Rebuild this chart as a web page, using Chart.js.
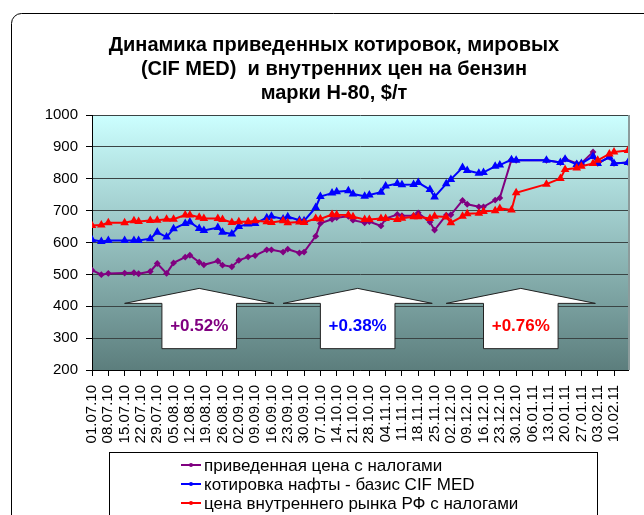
<!DOCTYPE html>
<html>
<head>
<meta charset="utf-8">
<script src="https://cdn.jsdelivr.net/npm/chart.js@4.4.0/dist/chart.umd.min.js"></script>
<style>
  html, body { margin: 0; padding: 0; background: #fff; }
  #wrap { width: 644px; height: 515px; }
</style>
</head>
<body>
<div id="wrap"><canvas id="myChart" width="644" height="515"></canvas></div>
<script>
// Даты наблюдений (дд.мм.гг)
var dates = ['01.07.10','05.07.10','08.07.10','15.07.10','19.07.10','21.07.10','26.07.10','29.07.10',
    '02.08.10','05.08.10','10.08.10','12.08.10','16.08.10','18.08.10','24.08.10','26.08.10','30.08.10',
    '02.09.10','06.09.10','09.09.10','14.09.10','16.09.10','21.09.10','23.09.10','28.09.10','30.09.10',
    '05.10.10','07.10.10','12.10.10','14.10.10','19.10.10','21.10.10','26.10.10','28.10.10',
    '02.11.10','04.11.10','09.11.10','11.11.10','16.11.10','18.11.10','23.11.10','25.11.10','30.11.10',
    '02.12.10','07.12.10','09.12.10','14.12.10','16.12.10','21.12.10','23.12.10','28.12.10','30.12.10',
    '12.01.11','18.01.11','20.01.11','25.01.11','27.01.11',
    '01.02.11','03.02.11','08.02.11','10.02.11','16.02.11'];

// приведенная цена с налогами
var reducedPrice = [513,499,503,504,505,502,509,534,503,536,
    554,560,538,530,542,529,524,544,555,559,
    577,577,570,579,567,570,620,660,673,678,
    682,670,662,666,652,675,688,684,684,693,
    664,639,686,687,732,720,712,712,733,740,
    860,858,858,851,862,848,849,884,848,868,
    848,851];

// котировка нафты - базис CIF MED
var naphthaCif = [609,603,606,606,606,606,612,632,617,643,
    660,664,644,638,647,632,627,650,658,660,
    678,682,674,681,670,668,710,744,755,759,
    762,752,745,749,758,777,785,781,782,788,
    766,743,784,798,835,826,817,820,839,843,
    860,858,858,851,861,845,848,870,848,868,
    848,851];

// цена внутреннего рынка РФ с налогами
var domesticPrice = [653,655,662,662,668,666,669,670,673,673,
    686,686,679,675,675,672,663,665,665,668,
    665,663,668,662,664,663,675,674,688,687,
    686,681,672,672,675,675,672,676,681,681,
    675,682,680,662,682,690,692,697,700,707,
    702,756,783,801,829,834,839,848,858,878,
    884,889];

var seriesNames = ['приведенная цена с налогами', 'котировка нафты - базис CIF MED', 'цена внутреннего рынка РФ с налогами'];

var tickLabels = ['01.07.10','08.07.10','15.07.10','22.07.10','29.07.10','05.08.10','12.08.10','19.08.10',
    '26.08.10','02.09.10','09.09.10','16.09.10','23.09.10','30.09.10','07.10.10','14.10.10','21.10.10',
    '28.10.10','04.11.10','11.11.10','18.11.10','25.11.10','02.12.10','09.12.10','16.12.10','23.12.10',
    '30.12.10','06.01.11','13.01.11','20.01.11','27.01.11','03.02.11','10.02.11'];
var axisStart = '01.07.10';
var axisEnd = '16.02.11';

var yMin = 200, yMax = 1000, yStep = 100;

// прирост (надписи на стрелках)
var growthLabels = ['+0.52%', '+0.38%', '+0.76%'];

var titleLines = ['Динамика приведенных котировок, мировых', '(CIF MED)  и внутренних цен на бензин', 'марки Н-80, $/т'];

// день от начала оси
function dayOf(s) {
    var p = s.split('.');
    var t = Date.UTC(2000 + parseInt(p[2], 10), parseInt(p[1], 10) - 1, parseInt(p[0], 10));
    var p0 = axisStart.split('.');
    var t0 = Date.UTC(2000 + parseInt(p0[2], 10), parseInt(p0[1], 10) - 1, parseInt(p0[0], 10));
    return Math.round((t - t0) / 86400000);
}

function toPoints(values) {
    return values.map(function(v, i) { return {x: dayOf(dates[i]), y: v}; });
}

var FONT = "'Liberation Sans', Arial, sans-serif";

// фон: рамка и градиент области построения
var backgroundPlugin = {
    id: 'background',
    beforeDraw: function(chart) {
        var ctx = chart.ctx, a = chart.chartArea;
        ctx.save();
        ctx.fillStyle = '#fff';
        ctx.fillRect(0, 0, chart.width, chart.height);
        ctx.strokeStyle = '#000';
        ctx.lineWidth = 1;
        ctx.beginPath();
        ctx.roundRect(11.5, 13.5, 700, 600, 10);
        ctx.stroke();
        var g = ctx.createLinearGradient(0, a.top, 0, a.bottom);
        g.addColorStop(0, '#ccffff');
        g.addColorStop(1, '#5c7e7d');
        ctx.fillStyle = g;
        ctx.fillRect(a.left, a.top, a.right - a.left, a.bottom - a.top);
        ctx.strokeStyle = '#8c9c9c';
        ctx.lineWidth = 2;
        ctx.beginPath();
        ctx.moveTo(a.right + 1, a.top);
        ctx.lineTo(a.right + 1, a.bottom);
        ctx.stroke();
        ctx.restore();
    }
};

// стрелки с приростом
var arrowsPlugin = {
    id: 'arrows',
    afterDatasetsDraw: function(chart, args, opts) {
        var ctx = chart.ctx, xs = chart.scales.x, ys = chart.scales.y;
        ctx.save();
        growthLabels.forEach(function(txt, i) {
            var cx = xs.getPixelForValue(opts.centers[i]);
            var hw = xs.getPixelForValue(opts.headHalf) - xs.getPixelForValue(0);
            var bw = xs.getPixelForValue(opts.bodyHalf) - xs.getPixelForValue(0);
            var tip = ys.getPixelForValue(opts.tip);
            var base = ys.getPixelForValue(opts.base);
            var bottom = ys.getPixelForValue(opts.bottom);
            ctx.beginPath();
            ctx.moveTo(cx, tip);
            ctx.lineTo(cx + hw, base);
            ctx.lineTo(cx + bw, base);
            ctx.lineTo(cx + bw, bottom);
            ctx.lineTo(cx - bw, bottom);
            ctx.lineTo(cx - bw, base);
            ctx.lineTo(cx - hw, base);
            ctx.closePath();
            ctx.fillStyle = '#fff';
            ctx.fill();
            ctx.strokeStyle = '#222';
            ctx.lineWidth = 1;
            ctx.stroke();
            ctx.fillStyle = opts.colors[i];
            ctx.font = 'bold 17px ' + FONT;
            ctx.textAlign = 'center';
            ctx.textBaseline = 'middle';
            ctx.fillText(txt, cx, (base + bottom) / 2);
        });
        ctx.restore();
    }
};

// легенда в рамке
var legendBoxPlugin = {
    id: 'legendBox',
    afterDraw: function(chart, args, opts) {
        var ctx = chart.ctx;
        ctx.save();
        ctx.strokeStyle = '#000';
        ctx.lineWidth = 1;
        ctx.strokeRect(opts.left + 0.5, opts.top + 0.5, opts.width, 200);
        ctx.font = opts.fontSize + 'px ' + FONT;
        ctx.textBaseline = 'middle';
        ctx.textAlign = 'left';
        chart.data.datasets.forEach(function(ds, i) {
            var y = opts.firstRow + i * opts.rowStep;
            ctx.strokeStyle = ds.borderColor;
            ctx.lineWidth = 2;
            ctx.beginPath();
            ctx.moveTo(opts.markX, y);
            ctx.lineTo(opts.markX + 20, y);
            ctx.stroke();
            ctx.fillStyle = ds.borderColor;
            ctx.beginPath();
            ctx.arc(opts.markX + 10, y, 2, 0, Math.PI * 2);
            ctx.fill();
            ctx.fillStyle = '#000';
            ctx.fillText(ds.label, opts.markX + 23, y + 1);
        });
        ctx.restore();
    }
};

var ctx = document.getElementById('myChart').getContext('2d');
var myChart = new Chart(ctx, {
    type: 'line',
    data: {
        datasets: [
            {
                label: seriesNames[0],
                data: toPoints(reducedPrice),
                borderColor: '#800080',
                backgroundColor: '#800080',
                borderWidth: 2,
                pointStyle: 'rectRot',
                pointRadius: 2,
                tension: 0,
                order: 3
            },
            {
                label: seriesNames[1],
                data: toPoints(naphthaCif),
                borderColor: '#0000ff',
                backgroundColor: '#0000ff',
                borderWidth: 2,
                pointStyle: 'triangle',
                pointRadius: 3,
                tension: 0,
                order: 2
            },
            {
                label: seriesNames[2],
                data: toPoints(domesticPrice),
                borderColor: '#ff0000',
                backgroundColor: '#ff0000',
                borderWidth: 2,
                pointStyle: 'triangle',
                pointRadius: 3,
                tension: 0,
                order: 1
            }
        ]
    },
    options: {
        responsive: false,
        animation: false,
        devicePixelRatio: 1,
        layout: {
            padding: {left: 40, right: 16, top: 33, bottom: 65}
        },
        scales: {
            x: {
                type: 'linear',
                min: 0,
                max: dayOf(axisEnd),
                afterBuildTicks: function(scale) {
                    scale.ticks = tickLabels.map(function(l) { return {value: dayOf(l)}; });
                },
                afterFit: function(scale) { scale.height = 80; },
                ticks: {
                    autoSkip: false,
                    minRotation: 90,
                    maxRotation: 90,
                    padding: 9,
                    color: '#000',
                    font: {family: FONT, size: 15},
                    callback: function(value, index) { return tickLabels[index]; }
                },
                grid: {
                    drawOnChartArea: false,
                    drawTicks: true,
                    tickLength: 6,
                    color: '#000'
                },
                border: {color: '#000', width: 1}
            },
            y: {
                min: yMin,
                max: yMax,
                afterFit: function(scale) { scale.width = 52; },
                ticks: {
                    stepSize: yStep,
                    padding: 8,
                    color: '#000',
                    font: {family: FONT, size: 15},
                    callback: function(value) { return String(value); }
                },
                grid: {
                    color: '#3a4444',
                    lineWidth: 1,
                    tickLength: 6,
                    tickColor: '#000'
                },
                border: {color: '#000', width: 1}
            }
        },
        plugins: {
            legend: {display: false},
            tooltip: {enabled: false},
            title: {
                display: true,
                text: titleLines,
                color: '#000',
                font: {family: FONT, size: 20, weight: 'bold', lineHeight: 1.2},
                padding: {top: 0, bottom: 10}
            },
            arrows: {
                centers: [46, 114, 184],
                headHalf: 32,
                bodyHalf: 16,
                tip: 456,
                base: 409,
                bottom: 267,
                colors: ['#800080', '#0000ff', '#ff0000']
            },
            legendBox: {
                left: 109,
                top: 452,
                width: 488,
                markX: 181,
                firstRow: 465,
                rowStep: 19,
                fontSize: 17
            }
        }
    },
    plugins: [backgroundPlugin, arrowsPlugin, legendBoxPlugin]
});
</script>
</body>
</html>
